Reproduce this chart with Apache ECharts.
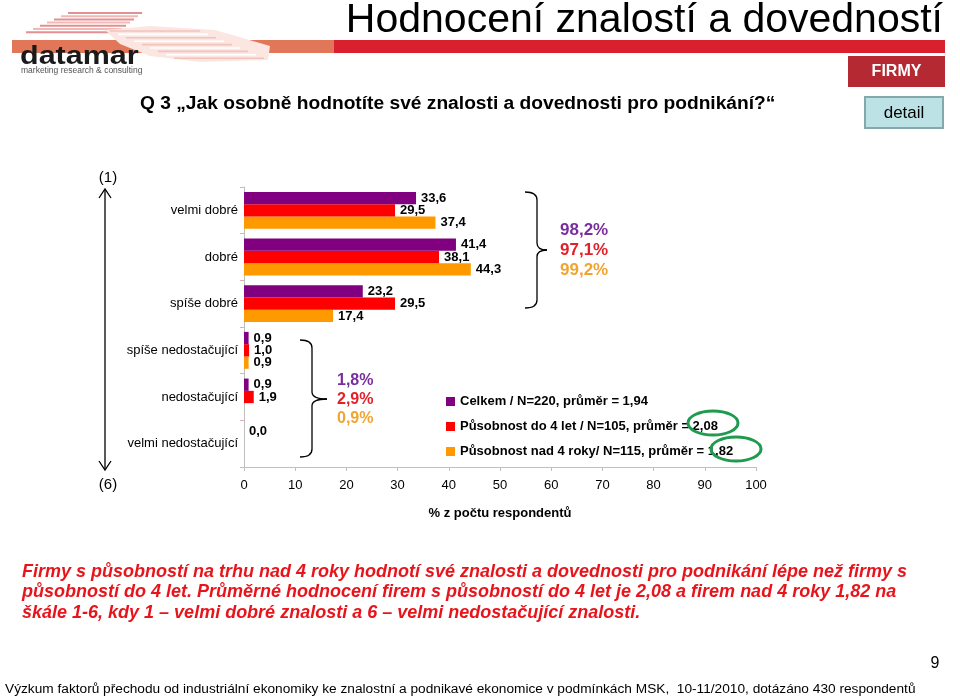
<!DOCTYPE html>
<html><head><meta charset="utf-8">
<script src="https://cdn.jsdelivr.net/npm/echarts@6/dist/echarts.min.js"></script>
<style>html,body{margin:0;padding:0;background:#fff}#c{width:960px;height:698px}</style>
</head><body><div id="c"></div>
<script>
var categories = ['velmi dobré','dobré','spíše dobré','spíše nedostačující','nedostačující','velmi nedostačující'];
var seriesNames = ['Celkem / N=220, průměr = 1,94','Působnost do 4 let / N=105, průměr = 2,08','Působnost nad 4 roky/ N=115, průměr = 1,82'];
var celkem = [33.6, 41.4, 23.2, 0.9, 0.9, 0.0];
var do4let = [29.5, 38.1, 29.5, 1.0, 1.9, 0.0];
var nad4roky = [37.4, 44.3, 17.4, 0.9, 0.0, 0.0];
var xTicks = [0,10,20,30,40,50,60,70,80,90,100];
var topShares = ['98,2%','97,1%','99,2%'];
var bottomShares = ['1,8%','2,9%','0,9%'];
var colors = ['#800080','#ff0000','#ff9900'];
var shareColors = ['#7a2e9e','#e3202a','#f2a430'];

var chart = echarts.init(document.getElementById('c'));
var F = 'Liberation Sans, Arial, sans-serif';
function fmt(p){
  if (p.value === 0 && p.seriesIndex > 0) return '';
  return p.value.toFixed(1).replace('.', ',');
}
function mk(name, data, i){
  return {name:name, type:'bar', data:data, barWidth:12.3, barGap:'0%',
    itemStyle:{color:colors[i]},
    label:{show:true, position:'right', distance:5, formatter:fmt, color:'#000', fontFamily:F, fontWeight:'bold', fontSize:13},
    z: 3-i};
}
var g = [];
var ls = {stroke:'#000', lineWidth:1.3, fill:null};
function brace(x0, xv, xt, y0, ym, y1){
  var r = 8;
  g.push({type:'bezierCurve', shape:{x1:x0,y1:y0,x2:xv,y2:y0+r,cpx1:xv,cpy1:y0}, style:ls});
  g.push({type:'line', shape:{x1:xv,y1:y0+r,x2:xv,y2:ym-7}, style:ls});
  g.push({type:'bezierCurve', shape:{x1:xv,y1:ym-7,x2:xt,y2:ym,cpx1:xv,cpy1:ym}, style:ls});
  g.push({type:'bezierCurve', shape:{x1:xt,y1:ym,x2:xv,y2:ym+7,cpx1:xv,cpy1:ym}, style:ls});
  g.push({type:'line', shape:{x1:xv,y1:ym+7,x2:xv,y2:y1-r}, style:ls});
  g.push({type:'bezierCurve', shape:{x1:xv,y1:y1-r,x2:x0,y2:y1,cpx1:xv,cpy1:y1}, style:ls});
}
// logo decorations
g.push({type:'rect', shape:{x:12,y:40,width:322,height:13}, style:{fill:'#e27658'}});
g.push({type:'rect', shape:{x:334,y:40,width:611,height:13}, style:{fill:'#d8202e'}});
for (var k=0;k<7;k++){
  g.push({type:'line', shape:{x1:68-7*k, y1:13+3.2*k, x2:142-4*k, y2:13+3.2*k}, style:{stroke:k%2?'#f2b8b8':'#e49090', lineWidth:2}});
}
g.push({type:'polygon', shape:{points:[[105,30],[150,26],[215,30],[270,46],[268,60],[200,62],[150,56],[120,44]]}, style:{fill:'#fbe6e2'}});
for (var k=0;k<9;k++){
  g.push({type:'line', shape:{x1:110+8*k, y1:31+3.4*k, x2:200+8*k, y2:31+3.4*k}, style:{stroke:k%2?'#ffffff':'#f2c2bc', lineWidth:1.6}});
}
g.push({type:'text', x:20, y:70, scaleX:1.22, originX:0, originY:0, style:{text:'datamar', font:'bold 25px '+F, fill:'#1a1a1a', verticalAlign:'bottom'}, z:5});
g.push({type:'text', x:21, y:71, style:{text:'marketing research & consulting', font:'8.5px '+F, fill:'#555', verticalAlign:'middle'}});
// title
g.push({type:'text', x:943, y:21, style:{text:'Hodnocení znalostí a dovedností', font:'41px '+F, fill:'#000', align:'right', verticalAlign:'middle'}});
// FIRMY box
g.push({type:'rect', shape:{x:848,y:56,width:97,height:31}, style:{fill:'#b52a32'}});
g.push({type:'text', x:896.5, y:71.5, style:{text:'FIRMY', font:'bold 16px '+F, fill:'#fff', align:'center', verticalAlign:'middle'}});
g.push({type:'rect', shape:{x:865,y:97,width:78,height:31}, style:{fill:'#bde2e6', stroke:'#86a8aa', lineWidth:2}});
g.push({type:'text', x:904, y:113, style:{text:'detail', font:'17px '+F, fill:'#000', align:'center', verticalAlign:'middle'}});
// question
g.push({type:'text', x:140, y:104, style:{text:'Q 3 „Jak osobně hodnotíte své znalosti a dovednosti pro podnikání?“', font:'bold 19.2px '+F, fill:'#000', verticalAlign:'middle'}});
// scale arrow
g.push({type:'text', x:108, y:178, style:{text:'(1)', font:'15px '+F, fill:'#000', align:'center', verticalAlign:'middle'}});
g.push({type:'text', x:108, y:485, style:{text:'(6)', font:'15px '+F, fill:'#000', align:'center', verticalAlign:'middle'}});
g.push({type:'line', shape:{x1:105,y1:190,x2:105,y2:469}, style:ls});
g.push({type:'polyline', shape:{points:[[99,198],[105,189],[111,198]]}, style:ls});
g.push({type:'polyline', shape:{points:[[99,461],[105,470],[111,461]]}, style:ls});
// braces
brace(525, 537, 547, 192, 250, 308);
brace(300, 312, 327, 340, 399, 457);
topShares.forEach(function(t,i){
  g.push({type:'text', x:560, y:230+i*20, style:{text:t, font:'bold 17px '+F, fill:shareColors[i], verticalAlign:'middle'}});
});
bottomShares.forEach(function(t,i){
  g.push({type:'text', x:337, y:381+i*19, style:{text:t, font:'bold 16px '+F, fill:shareColors[i], verticalAlign:'middle'}});
});
// ellipses
g.push({type:'ellipse', shape:{cx:713,cy:423,rx:25,ry:12}, style:{stroke:'#1f9a4e', lineWidth:3, fill:null}, z:10});
g.push({type:'ellipse', shape:{cx:736,cy:449,rx:25,ry:12}, style:{stroke:'#1f9a4e', lineWidth:3, fill:null}, z:10});
// bottom text
['Firmy s působností na trhu nad 4 roky hodnotí své znalosti a dovednosti pro podnikání lépe než firmy s',
 'působností do 4 let. Průměrné hodnocení firem s působností do 4 let je 2,08 a firem nad 4 roky 1,82 na',
 'škále 1-6, kdy 1 – velmi dobré znalosti a 6 – velmi nedostačující znalosti.'].forEach(function(t,i){
  g.push({type:'text', x:22, y:572+i*20.5, style:{text:t, font:'italic bold 18px '+F, fill:'#e8141c', verticalAlign:'middle'}});
});
g.push({type:'text', x:935, y:664, style:{text:'9', font:'16px '+F, fill:'#000', align:'center', verticalAlign:'middle'}});
g.push({type:'text', x:5, y:689, style:{text:'Výzkum faktorů přechodu od industriální ekonomiky ke znalostní a podnikavé ekonomice v podmínkách MSK,  10-11/2010, dotázáno 430 respondentů', font:'13.7px '+F, fill:'#000', verticalAlign:'middle'}});

chart.setOption({
  animation:false,
  backgroundColor:'#fff',
  grid:{left:244, right:204, top:187, bottom:231, containLabel:false},
  legend:{orient:'vertical', left:446, top:395, itemWidth:9, itemHeight:9, itemGap:12, padding:0,
    icon:'rect', textStyle:{fontFamily:F, fontWeight:'bold', fontSize:13, color:'#000'}, data:seriesNames},
  xAxis:{type:'value', min:0, max:100, interval:10,
    axisLine:{show:true, lineStyle:{color:'#bfbfbf'}}, axisTick:{show:true, length:4, lineStyle:{color:'#bfbfbf'}},
    splitLine:{show:false},
    axisLabel:{margin:12, fontFamily:F, fontSize:13, color:'#000'},
    name:'% z počtu respondentů', nameLocation:'middle', nameGap:40,
    nameTextStyle:{fontFamily:F, fontSize:13, fontWeight:'bold', color:'#000'}},
  yAxis:{type:'category', data:categories, inverse:true,
    axisLine:{show:true, lineStyle:{color:'#bfbfbf'}}, axisTick:{show:true, length:4, lineStyle:{color:'#e0b0b0'}},
    axisLabel:{margin:6, fontFamily:F, fontSize:13, color:'#000'}},
  series:[mk(seriesNames[0], celkem, 0), mk(seriesNames[1], do4let, 1), mk(seriesNames[2], nad4roky, 2)],
  graphic:g
});
</script></body></html>
